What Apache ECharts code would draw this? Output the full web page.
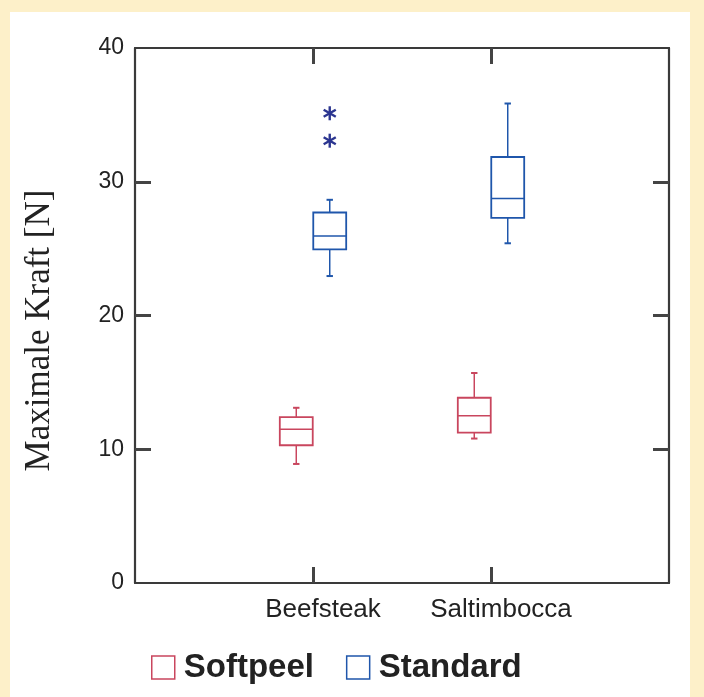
<!DOCTYPE html>
<html>
<head>
<meta charset="utf-8">
<script src="https://cdn.jsdelivr.net/npm/echarts@6/dist/echarts.min.js"></script>
<style>
  html, body { margin: 0; padding: 0; background: #fdf0c9; }
  #chart { width: 704px; height: 697px; }
</style>
</head>
<body>
<div id="chart"></div>
<script>
// ---- data ----
const categories = ['Beefsteak', 'Saltimbocca'];
const seriesNames = ['Softpeel', 'Standard'];
// [categoryPosition, min, Q1, median, Q3, max]
const softpeel = [
  [1, 8.9, 10.3, 11.5, 12.4, 13.1],
  [2, 10.8, 11.25, 12.5, 13.85, 15.7]
];
const standard = [
  [1, 22.95, 24.95, 25.95, 27.7, 28.65],
  [2, 25.4, 27.3, 28.75, 31.85, 35.85]
];
// [categoryPosition, value]
const standardOutliers = [
  [1, 35.12],
  [1, 33.07]
];
const yTicks = [0, 10, 20, 30, 40];
const yInnerTicks = [10, 20, 30];
const xInnerTicks = [1, 2];

// ---- styling ----
const RED = '#c9465e';
const BLUE = '#1f56ab';
const STAR = '#2b3590';
const OFFSET = 0.094;   // group offset in category units
const BOX_W = 0.185;    // box width in category units
const CAP_W = 0.036;

function boxRender(offset, color) {
  return function (params, api) {
    const x = api.value(0) + offset;
    const mn = api.coord([x, api.value(1)]);
    const q1 = api.coord([x, api.value(2)]);
    const md = api.coord([x, api.value(3)]);
    const q3 = api.coord([x, api.value(4)]);
    const mx = api.coord([x, api.value(5)]);
    const half = api.size([BOX_W, 0])[0] / 2;
    const cap = api.size([CAP_W, 0])[0] / 2;
    const cx = mn[0];
    const st = { stroke: color, lineWidth: 1.5, fill: null };
    return {
      type: 'group',
      children: [
        { type: 'line', shape: { x1: cx, y1: mx[1], x2: cx, y2: q3[1] }, style: st },
        { type: 'line', shape: { x1: cx, y1: q1[1], x2: cx, y2: mn[1] }, style: st },
        { type: 'line', shape: { x1: cx - cap, y1: mx[1], x2: cx + cap, y2: mx[1] }, style: { stroke: color, lineWidth: 2 } },
        { type: 'line', shape: { x1: cx - cap, y1: mn[1], x2: cx + cap, y2: mn[1] }, style: { stroke: color, lineWidth: 2 } },
        { type: 'rect', shape: { x: cx - half, y: q3[1], width: 2 * half, height: q1[1] - q3[1] }, style: { stroke: color, lineWidth: 1.8, fill: '#fff' } },
        { type: 'line', shape: { x1: cx - half, y1: md[1], x2: cx + half, y2: md[1] }, style: st }
      ]
    };
  };
}

function starRender(offset, color) {
  return function (params, api) {
    const p = api.coord([api.value(0) + offset, api.value(1)]);
    const r = 7;
    const children = [];
    for (let k = 0; k < 3; k++) {
      const a = k * Math.PI / 3;
      const dx = Math.sin(a) * r, dy = Math.cos(a) * r;
      children.push({ type: 'line', shape: { x1: p[0] - dx, y1: p[1] - dy, x2: p[0] + dx, y2: p[1] + dy }, style: { stroke: color, lineWidth: 2.4 } });
    }
    return { type: 'group', children };
  };
}

const axisLine = { show: true, onZero: false, lineStyle: { color: '#3a3a3a', width: 2.2 } };
const yTick = { show: true, inside: true, length: 16, customValues: yInnerTicks, lineStyle: { color: '#444', width: 3 } };
const xTick = { show: true, inside: true, length: 16, customValues: xInnerTicks, lineStyle: { color: '#444', width: 3 } };

const chart = echarts.init(document.getElementById('chart'), null, { renderer: 'canvas' });
chart.setOption({
  backgroundColor: 'transparent',
  animation: false,
  graphic: [
    { type: 'rect', silent: true, z: -100, shape: { x: 10, y: 12, width: 680, height: 690 }, style: { fill: '#ffffff' } }
  ],
  grid: { left: 135, right: 35, top: 48, bottom: 114 },
  legend: {
    left: 146,
    top: 646,
    itemWidth: 23,
    itemHeight: 23,
    itemGap: 32,
    textStyle: { fontFamily: 'Liberation Sans', fontWeight: 'bold', fontSize: 33, color: '#222', padding: [0, 0, 0, 4] },
    data: [
      { name: seriesNames[0], icon: 'rect', itemStyle: { color: '#fff', borderColor: RED, borderWidth: 1.5 } },
      { name: seriesNames[1], icon: 'rect', itemStyle: { color: '#fff', borderColor: BLUE, borderWidth: 1.5 } }
    ]
  },
  xAxis: [
    {
      type: 'value', min: 0, max: 3, interval: 1, position: 'bottom',
      axisLine, axisTick: xTick, splitLine: { show: false },
      axisLabel: {
        margin: 14, fontFamily: 'Liberation Sans', fontSize: 26, color: '#222',
        padding: [0, 0, 0, 20],
        formatter: v => categories[v - 1] || ''
      }
    },
    {
      type: 'value', min: 0, max: 3, interval: 1, position: 'top',
      axisLine, axisTick: xTick, splitLine: { show: false }, axisLabel: { show: false }
    }
  ],
  yAxis: [
    {
      type: 'value', min: yTicks[0], max: yTicks[yTicks.length - 1], interval: 10, position: 'left',
      axisLine, axisTick: yTick, splitLine: { show: false },
      axisLabel: { margin: 11, fontFamily: 'Liberation Sans', fontSize: 23, color: '#222' },
      name: 'Maximale Kraft [N]', nameLocation: 'middle', nameGap: 78,
      nameTextStyle: { fontFamily: 'Liberation Serif', fontSize: 35, color: '#222', padding: [0, 30, 0, 0] }
    },
    {
      type: 'value', min: yTicks[0], max: yTicks[yTicks.length - 1], interval: 10, position: 'right',
      axisLine, axisTick: yTick, splitLine: { show: false }, axisLabel: { show: false }
    }
  ],
  series: [
    {
      name: seriesNames[0], type: 'custom', xAxisIndex: 0, yAxisIndex: 0,
      itemStyle: { color: RED },
      renderItem: boxRender(-OFFSET, RED),
      encode: { x: 0, y: [1, 2, 3, 4, 5] },
      data: softpeel
    },
    {
      name: seriesNames[1], type: 'custom', xAxisIndex: 0, yAxisIndex: 0,
      itemStyle: { color: BLUE },
      renderItem: boxRender(OFFSET, BLUE),
      encode: { x: 0, y: [1, 2, 3, 4, 5] },
      data: standard
    },
    {
      name: seriesNames[1], type: 'custom', xAxisIndex: 0, yAxisIndex: 0,
      itemStyle: { color: BLUE },
      renderItem: starRender(OFFSET, STAR),
      encode: { x: 0, y: 1 },
      data: standardOutliers
    }
  ]
});
</script>
</body>
</html>
